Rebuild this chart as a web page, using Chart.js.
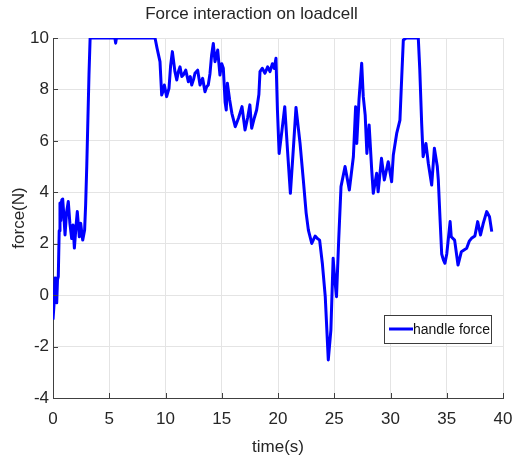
<!DOCTYPE html>
<html>
<head>
<meta charset="utf-8">
<script src="https://cdn.jsdelivr.net/npm/chart.js@4/dist/chart.umd.min.js"></script>
<style>
html,body{margin:0;padding:0;background:#fff;}
#wrap{width:512px;height:456px;position:relative;}
</style>
</head>
<body>
<div id="wrap"><canvas id="c" width="512" height="456"></canvas></div>
<script>
// ---- data ----
const chartTitle = "Force interaction on loadcell";
const xAxisTitle = "time(s)";
const yAxisTitle = "force(N)";
const seriesName = "handle force";
const xTicks = [0, 5, 10, 15, 20, 25, 30, 35, 40];
const yTicks = [-4, -2, 0, 2, 4, 6, 8, 10];

const times = [
  0.00,0.10,0.18,0.25,0.33,0.40,0.47,0.55,0.62,0.70,
  0.78,0.86,0.95,1.07,1.20,1.36,1.50,1.66,1.78,1.90,
  2.05,2.16,2.34,2.46,2.64,2.81,2.90,3.00,3.10,3.20,
  3.30,5.50,5.57,5.64,9.07,9.25,9.51,9.66,9.80,9.90,
  10.10,10.31,10.45,10.61,10.84,11.00,11.15,11.29,11.45,11.58,
  11.80,12.03,12.20,12.33,12.50,12.62,12.86,13.07,13.30,13.51,
  13.66,13.80,13.95,14.10,14.25,14.40,14.64,14.84,15.00,15.14,
  15.30,15.40,15.50,15.70,15.90,16.20,16.50,16.80,17.07,17.30,
  17.50,17.66,17.90,18.10,18.30,18.40,18.60,18.84,19.08,19.29,
  19.50,19.67,19.82,19.95,20.10,20.35,20.60,20.85,21.10,21.35,
  21.60,21.96,22.25,22.50,22.70,23.00,23.30,23.50,23.70,23.95,
  24.20,24.47,24.70,24.90,25.05,25.20,25.40,25.60,25.96,26.34,
  26.70,26.90,27.00,27.20,27.44,27.58,27.75,27.90,28.10,28.33,
  28.47,28.77,28.90,29.20,29.45,29.80,30.10,30.25,30.55,30.84,
  31.00,31.14,31.40,32.47,32.60,32.77,32.90,33.15,33.36,33.66,
  33.90,34.16,34.25,34.40,34.55,34.70,34.84,35.00,35.30,35.40,
  35.70,36.00,36.30,36.77,37.00,37.20,37.50,37.75,38.00,38.25,
  38.55,38.80,39.00
];
const forces = [
  -0.95,-0.3,0.67,0.1,-0.3,0.6,0.72,2.5,3.58,2.9,
  3.7,3.74,3.2,2.34,3.2,3.64,2.8,2.2,2.73,1.83,
  2.7,3.25,2.27,2.8,2.14,2.53,3.5,5.0,6.8,8.6,
  10.0,10.0,9.8,10.0,10.0,9.6,9.08,7.78,7.95,8.17,
  7.72,8.04,8.9,9.47,8.69,8.37,8.7,8.88,8.5,8.56,
  8.75,8.3,8.5,8.17,8.4,8.63,8.75,8.17,8.43,7.91,
  8.1,8.17,8.6,9.34,9.79,9.08,9.53,8.56,9.0,8.82,
  7.5,7.2,8.24,7.6,7.07,6.55,6.9,7.33,6.42,6.9,
  7.4,6.49,6.9,7.2,7.8,8.69,8.82,8.63,8.88,8.69,
  9.0,8.82,9.21,7.2,5.51,6.4,7.33,5.6,3.96,5.6,
  7.3,5.9,4.48,3.2,2.53,2.01,2.3,2.2,2.14,1.2,
  -0.06,-2.52,-1.36,1.43,0.6,-0.06,2.2,4.22,5.0,4.09,
  5.38,7.33,5.9,7.6,9.02,7.72,7.0,5.51,6.62,4.87,
  3.96,4.74,4.02,5.32,4.48,5.19,4.41,5.45,6.29,6.81,
  8.5,9.92,10.0,10.0,8.8,6.68,5.38,5.9,5.13,4.28,
  5.71,5.0,4.48,3.0,1.6,1.37,1.24,1.6,2.86,2.27,
  2.14,1.17,1.69,1.82,2.1,2.21,2.3,2.86,2.34,2.8,
  3.25,3.05,2.47
];

const FONT = "'Liberation Sans', Arial, Helvetica, sans-serif";
const AXIS_COLOR = '#404040';
const TEXT_COLOR = '#262626';
const GRID_COLOR = '#e4e4e4';
const LINE_COLOR = '#0000ff';

const points = times.map((t, i) => ({x: t, y: forces[i]}));

// inward tick marks (MATLAB style)
const inwardTicks = {
  id: 'inwardTicks',
  afterDatasetsDraw(chart) {
    const {ctx, chartArea: a, scales: {x, y}} = chart;
    ctx.save();
    ctx.strokeStyle = AXIS_COLOR;
    ctx.lineWidth = 1;
    ctx.beginPath();
    xTicks.forEach(v => {
      const px = Math.round(x.getPixelForValue(v)) + 0.5;
      ctx.moveTo(px, a.bottom);
      ctx.lineTo(px, a.bottom - 5);
    });
    yTicks.forEach(v => {
      const py = Math.round(y.getPixelForValue(v)) + 0.5;
      ctx.moveTo(a.left, py);
      ctx.lineTo(a.left + 5, py);
    });
    ctx.stroke();
    ctx.restore();
  }
};

// legend box inside the axes (lower right)
const innerLegend = {
  id: 'innerLegend',
  afterDraw(chart) {
    const {ctx, chartArea: a} = chart;
    const ds = chart.data.datasets[0];
    const w = 107, h = 28;
    const bx = a.right - 12 - w, by = a.top + 277;
    ctx.save();
    ctx.fillStyle = '#ffffff';
    ctx.fillRect(bx, by, w, h);
    ctx.strokeStyle = '#3c3c3c';
    ctx.lineWidth = 1;
    ctx.strokeRect(Math.round(bx) + 0.5, Math.round(by) + 0.5, w, h);
    ctx.strokeStyle = ds.borderColor;
    ctx.lineWidth = 3;
    ctx.beginPath();
    ctx.moveTo(bx + 5, by + h / 2);
    ctx.lineTo(bx + 29, by + h / 2);
    ctx.stroke();
    ctx.fillStyle = '#111';
    ctx.font = '14px ' + FONT;
    ctx.textBaseline = 'middle';
    ctx.textAlign = 'left';
    ctx.fillText(ds.label, bx + 29, by + h / 2 + 1);
    ctx.restore();
  }
};

new Chart(document.getElementById('c'), {
  type: 'line',
  data: {
    datasets: [{
      label: seriesName,
      data: points,
      borderColor: LINE_COLOR,
      backgroundColor: LINE_COLOR,
      borderWidth: 3,
      pointRadius: 0,
      tension: 0,
      fill: false,
      borderJoinStyle: 'round'
    }]
  },
  options: {
    responsive: false,
    animation: false,
    layout: {padding: {top: 0, right: 9, left: 0, bottom: 0}},
    plugins: {
      legend: {display: false},
      tooltip: {enabled: false},
      title: {
        display: true,
        text: chartTitle,
        color: TEXT_COLOR,
        font: {family: FONT, size: 17, weight: 'normal'},
        padding: {top: 4, bottom: 13.6}
      }
    },
    scales: {
      x: {
        type: 'linear',
        min: 0, max: 40,
        afterBuildTicks: s => { s.ticks = xTicks.map(v => ({value: v})); },
        afterFit: s => { s.height = 58; s.paddingLeft = 0; s.paddingRight = 0; },
        grid: {color: GRID_COLOR, drawTicks: false},
        border: {color: AXIS_COLOR, width: 1},
        ticks: {color: TEXT_COLOR, font: {family: FONT, size: 17}, padding: 11, maxRotation: 0},
        title: {display: true, text: xAxisTitle, color: TEXT_COLOR, font: {family: FONT, size: 17, lineHeight: 1}, padding: {top: 0, bottom: 0}}
      },
      y: {
        type: 'linear',
        min: -4, max: 10,
        afterBuildTicks: s => { s.ticks = yTicks.map(v => ({value: v})); },
        afterFit: s => { s.width = 53; },
        grid: {color: GRID_COLOR, drawTicks: false},
        border: {color: AXIS_COLOR, width: 1},
        ticks: {color: TEXT_COLOR, font: {family: FONT, size: 17}, padding: 4},
        title: {display: true, text: yAxisTitle, color: TEXT_COLOR, font: {family: FONT, size: 17}, padding: {top: 9, bottom: 0}}
      }
    }
  },
  plugins: [inwardTicks, innerLegend]
});
</script>
</body>
</html>
